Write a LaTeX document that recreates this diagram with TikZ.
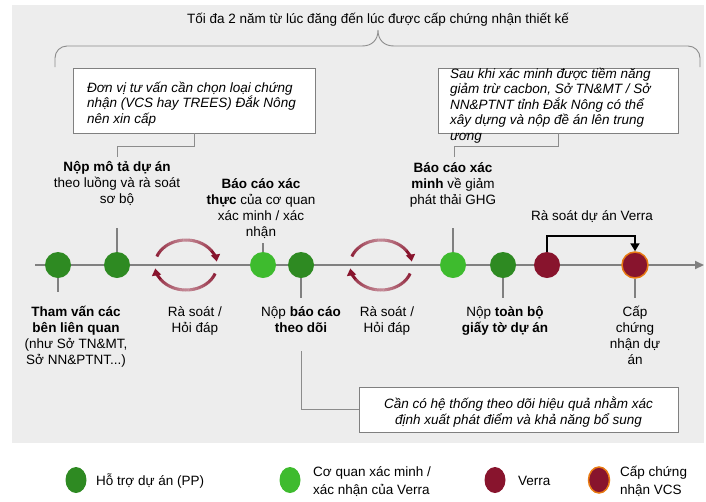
\documentclass[tikz,border=0pt]{standalone}
\usepackage{fontspec}
\setmainfont{Liberation Sans}
\usetikzlibrary{arrows.meta,calc,shapes.geometric}

\definecolor{panel}{HTML}{EDEDED}
\definecolor{ppgreen}{RGB}{46,138,34}
\definecolor{vvbgreen}{RGB}{62,187,46}
\definecolor{verra}{RGB}{136,20,45}
\definecolor{vcsring}{RGB}{232,122,18}
\definecolor{axisgray}{HTML}{808080}
\definecolor{guidegray}{HTML}{8C8C8C}

\begin{document}
\begin{tikzpicture}[x=1pt,y=-1pt,
  milestone/.style={circle,minimum size=26pt,inner sep=0pt},
  pp/.style={milestone,fill=ppgreen},
  vvb/.style={milestone,fill=vvbgreen},
  vr/.style={milestone,fill=verra},
  vcs/.style={milestone,fill=verra,draw=vcsring,line width=1.5pt},
  keydot/.style={ellipse,minimum width=21pt,minimum height=26pt,inner sep=0pt},
  stub/.style={draw=axisgray,line width=2pt},
  axisline/.style={draw=axisgray,line width=2pt},
  guide/.style={draw=guidegray,line width=0.9pt},
  notebox/.style={draw=axisgray,fill=white,line width=0.9pt,inner sep=0pt},
  lbl/.style={align=center,inner sep=0pt,anchor=base,font=\fontsize{13.5pt}{16pt}\selectfont},
  notetext/.style={align=left,inner sep=0pt,anchor=base west,font=\fontsize{13.5pt}{15.5pt}\selectfont\itshape},
  keytext/.style={align=left,inner sep=0pt,anchor=base west,font=\fontsize{13.5pt}{18pt}\selectfont},
]
\useasboundingbox (0,0) rectangle (706,501);
\fill[panel] (12,5) rectangle (704,443);

% overall duration brace
\node[lbl] (title) at (378,23) {Tối đa 2 năm từ lúc đăng đến lúc được cấp chứng nhận thiết kế};
\draw[guide] (55,67) -- (55,58) arc[start angle=180,end angle=270,radius=12]
  -- (362,46) .. controls (372,46) and (378,40) .. (378,30)
  .. controls (378,40) and (384,46) .. (394,46)
  -- (688,46) arc[start angle=270,end angle=360,radius=12] -- (700,67);

% timeline axis
\coordinate (t0) at (35,265);
\coordinate (t1) at (704,265);
\draw[axisline,-{Triangle[length=9pt,width=8pt]}] (t0) -- (t1);

% review / Q&A loops
\coordinate (r1) at (186,265);
\coordinate (r2) at (381,265);
\foreach \c in {r1,r2}{
  \foreach \a in {200,205,...,320}{
    \pgfmathtruncatemacro\m{100-50*max(0,1-abs(\a+2.5-270)/75)}
    \draw[line width=3pt,draw=verra!\m!white] ($(\c)+(\a:31 and 25)$)
      arc[start angle=\a,end angle=\a+5.5,x radius=31,y radius=25];
  }
  \draw[line width=3pt,draw=verra,-{Triangle[length=7pt,width=9pt]}] ($(\c)+(325:31 and 25)$)
      arc[start angle=325,end angle=352,x radius=31,y radius=25];
  \foreach \a in {20,25,...,140}{
    \pgfmathtruncatemacro\m{100-50*max(0,1-abs(\a+2.5-90)/75)}
    \draw[line width=3pt,draw=verra!\m!white] ($(\c)+(\a:31 and 25)$)
      arc[start angle=\a,end angle=\a+5.5,x radius=31,y radius=25];
  }
  \draw[line width=3pt,draw=verra,-{Triangle[length=7pt,width=9pt]}] ($(\c)+(145:31 and 25)$)
      arc[start angle=145,end angle=172,x radius=31,y radius=25];
}

% milestones
\node[pp]  (c1) at (58,265) {};
\node[pp]  (c2) at (117,265) {};
\node[vvb] (c3) at (263,265) {};
\node[pp]  (c4) at (301,265) {};
\node[vvb] (c5) at (453,265) {};
\node[pp]  (c6) at (503,265) {};
\node[vr]  (c7) at (547,265) {};
\node[vcs] (c8) at (635,265) {};

% stubs from milestones toward their labels
\draw[stub] (c1.south) -- ++(0,14);
\draw[stub] (c2.north) -- ++(0,-24);
\draw[stub] (c3.north) -- ++(0,-9);
\draw[stub] (c4.south) -- ++(0,20);
\draw[stub] (c5.north) -- ++(0,-24);
\draw[stub] (c6.south) -- ++(0,20);
\draw[stub] (c8.south) -- ++(0,19);

% Verra review bracket
\draw[line width=1.8pt,-{Triangle[length=8pt,width=9pt]}] (c7.north) -- ++(0,-16) -| (c8.north);

% labels above the axis (a multi-line node sits on the baseline of its last line)
\node[lbl] (l2) at (117,203) {\bfseries Nộp mô tả dự án\\theo luồng và rà soát\\sơ bộ};
\node[lbl] (l3) at (261,236) {\bfseries Báo cáo xác\\{\bfseries thực} của cơ quan\\xác minh / xác\\nhận};
\node[lbl] (l5) at (453,204) {\bfseries Báo cáo xác\\{\bfseries minh} về giảm\\phát thải GHG};
\node[lbl] (l7) at (592,220) {Rà soát dự án Verra};

% labels below the axis
\node[lbl] (l1) at (76,364) {\bfseries Tham vấn các\\\bfseries bên liên quan\\(như Sở TN\&MT,\\Sở NN\&PTNT...)};
\node[lbl] (q1) at (195,332) {Rà soát /\\Hỏi đáp};
\node[lbl] (l4) at (301,332) {Nộp {\bfseries báo cáo}\\\bfseries theo dõi};
\node[lbl] (q2) at (387,332) {Rà soát /\\Hỏi đáp};
\node[lbl] (l6) at (505,332) {Nộp {\bfseries toàn bộ}\\\bfseries giấy tờ dự án};
\node[lbl] (l8) at (635,364) {Cấp\\chứng\\nhận dự\\án};

% notes
\node[notebox,minimum width=242pt,minimum height=65pt] (n1) at (194,100.5) {};
\node[notetext] (n1t) at (87,123) {Đơn vị tư vấn cần chọn loại chứng\\nhận (VCS hay TREES) Đắk Nông\\nên xin cấp};
\coordinate (k2) at (117,157);
\draw[guide] (n1.south) -- ++(0,13) -| (k2);

\node[notebox,minimum width=240pt,minimum height=65pt] (n2) at (558,100.5) {};
\node[notetext] (n2t) at (450,140) {Sau khi xác minh được tiềm năng\\giảm trừ cacbon, Sở TN\&MT / Sở\\NN\&PTNT tỉnh Đắk Nông có thể\\xây dựng và nộp đề án lên trung\\ương};
\coordinate (k5) at (454,157);
\draw[guide] (n2.south) -- ++(0,13) -| (k5);

\node[notebox,minimum width=319pt,minimum height=45pt] (n3) at (518.5,409.5) {};
\node[lbl,font=\fontsize{13.5pt}{16pt}\selectfont\itshape] (n3t) at (518.5,424) {Cần có hệ thống theo dõi hiệu quả nhằm xác\\định xuất phát điểm và khả năng bổ sung};
\coordinate (k4) at (301,351);
\draw[guide] (k4) |- (n3.west);

% legend
\node[keydot,fill=ppgreen] (g1) at (76,480) {};
\node[keytext] (g1t) at (96,485) {Hỗ trợ dự án (PP)};
\node[keydot,fill=vvbgreen] (g2) at (290,480) {};
\node[keytext] (g2t) at (313,494) {Cơ quan xác minh /\\xác nhận của Verra};
\node[keydot,fill=verra] (g3) at (495,480) {};
\node[keytext] (g3t) at (518,485) {Verra};
\node[keydot,fill=verra,draw=vcsring,line width=1.5pt] (g4) at (599,480) {};
\node[keytext] (g4t) at (620,494) {Cấp chứng\\nhận VCS};
\end{tikzpicture}
\end{document}
